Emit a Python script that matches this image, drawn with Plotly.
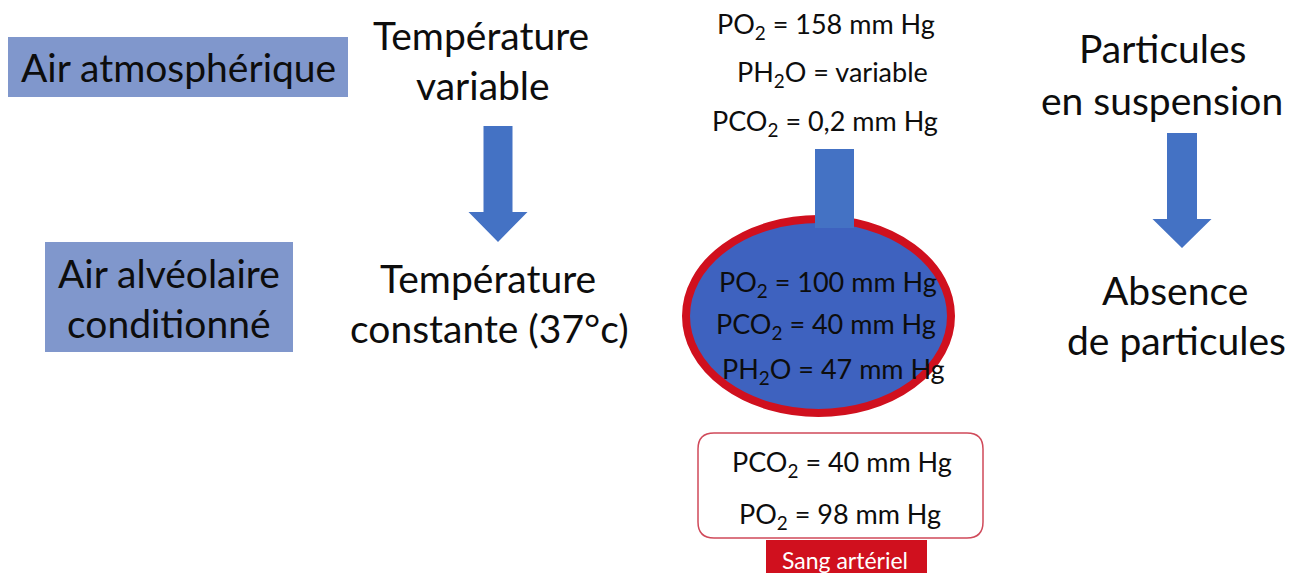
import plotly.graph_objects as go

W, H = 1302, 573
FONT = "Lato"

# ---- text content ----
left_box1_lines = ["Air atmosphérique"]
left_box2_lines = ["Air alvéolaire", "conditionné"]
temp_top_lines = ["Température", "variable"]
temp_bot_lines = ["Température", "constante (37°c)"]
atm_lines = ["PO<sub>2</sub> = 158 mm Hg", "PH<sub>2</sub>O = variable", "PCO<sub>2</sub> = 0,2 mm Hg"]
alv_lines = ["PO<sub>2</sub> = 100 mm Hg", "PCO<sub>2</sub> = 40 mm Hg", "PH<sub>2</sub>O = 47 mm Hg"]
blood_lines = ["PCO<sub>2</sub> = 40 mm Hg", "PO<sub>2</sub> = 98 mm Hg"]
blood_label = "Sang artériel"
part_top_lines = ["Particules", "en suspension"]
part_bot_lines = ["Absence", "de particules"]

# ---- colours ----
BOX_BLUE = "#8097CC"
ARROW_BLUE = "#4472C4"
ELLIPSE_BLUE = "#3E62BF"
RED = "#D0101E"
TXT = "#0d0d0d"

BIG = 39
SMALL = 27

fig = go.Figure()
shapes = []
ann = []

def text(x, y, s, size, color=TXT):
    ann.append(dict(x=x, y=y, text=s, showarrow=False, xanchor="center", yanchor="middle",
                    font=dict(family=FONT, size=size, color=color)))

def down_arrow(xc, y_top, y_head, y_tip, shaft_w, head_w):
    p = (f"M {xc-shaft_w/2},{y_top} L {xc+shaft_w/2},{y_top} L {xc+shaft_w/2},{y_head} "
         f"L {xc+head_w/2},{y_head} L {xc},{y_tip} L {xc-head_w/2},{y_head} "
         f"L {xc-shaft_w/2},{y_head} Z")
    shapes.append(dict(type="path", path=p, fillcolor=ARROW_BLUE, line=dict(width=0), layer="below"))

# left boxes
shapes.append(dict(type="rect", x0=8, x1=348, y0=37, y1=97, fillcolor=BOX_BLUE, line=dict(width=0), layer="below"))
shapes.append(dict(type="rect", x0=45, x1=293, y0=242, y1=352, fillcolor=BOX_BLUE, line=dict(width=0), layer="below"))
text(178, 67, left_box1_lines[0], BIG)
text(169, 273, left_box2_lines[0], BIG)
text(169, 323, left_box2_lines[1], BIG)

# temperature column
text(481, 35, temp_top_lines[0], BIG)
text(483, 85, temp_top_lines[1], BIG)
down_arrow(498, 126, 212, 242, 29, 59)
text(488, 278, temp_bot_lines[0], BIG)
text(489, 328, temp_bot_lines[1], BIG)

# centre column
text(826, 25, atm_lines[0], SMALL)
text(832, 73, atm_lines[1], SMALL)
text(825, 122, atm_lines[2], SMALL)

shapes.append(dict(type="circle", x0=686, x1=951, y0=219, y1=413, fillcolor=ELLIPSE_BLUE,
                   line=dict(color=RED, width=8), layer="below"))
shapes.append(dict(type="rect", x0=815, x1=854, y0=149, y1=228, fillcolor=ARROW_BLUE,
                   line=dict(width=0), layer="below"))

text(828, 283, alv_lines[0], SMALL)
text(826, 325, alv_lines[1], SMALL)
text(833, 370, alv_lines[2], SMALL)

# blood box (rounded)
x0, x1, y0, y1, r = 698, 983, 433, 538, 16
p = (f"M {x0+r},{y0} L {x1-r},{y0} Q {x1},{y0} {x1},{y0+r} L {x1},{y1-r} Q {x1},{y1} {x1-r},{y1} "
     f"L {x0+r},{y1} Q {x0},{y1} {x0},{y1-r} L {x0},{y0+r} Q {x0},{y0} {x0+r},{y0} Z")
shapes.append(dict(type="path", path=p, fillcolor="white", line=dict(color="#D04A5A", width=1.5), layer="below"))
text(842, 463, blood_lines[0], SMALL)
text(840, 515, blood_lines[1], SMALL)

shapes.append(dict(type="rect", x0=766, x1=927, y0=540, y1=580, fillcolor=RED, line=dict(width=0), layer="below"))
text(845, 560, blood_label, 23, "white")

# particles column
text(1162, 48, part_top_lines[0], BIG)
text(1162, 100, part_top_lines[1], BIG)
down_arrow(1182, 133, 219, 248, 30, 59)
text(1175, 290, part_bot_lines[0], BIG)
text(1176, 340, part_bot_lines[1], BIG)

fig.update_layout(
    width=W, height=H, margin=dict(l=0, r=0, t=0, b=0),
    paper_bgcolor="white", plot_bgcolor="white",
    xaxis=dict(range=[0, W], visible=False, fixedrange=True),
    yaxis=dict(range=[H, 0], visible=False, fixedrange=True),
    shapes=shapes, annotations=ann, showlegend=False,
)
fig.write_html("out.html", config={"displayModeBar": False},
               post_script="document.body.style.margin='0';document.body.style.overflow='hidden';")
